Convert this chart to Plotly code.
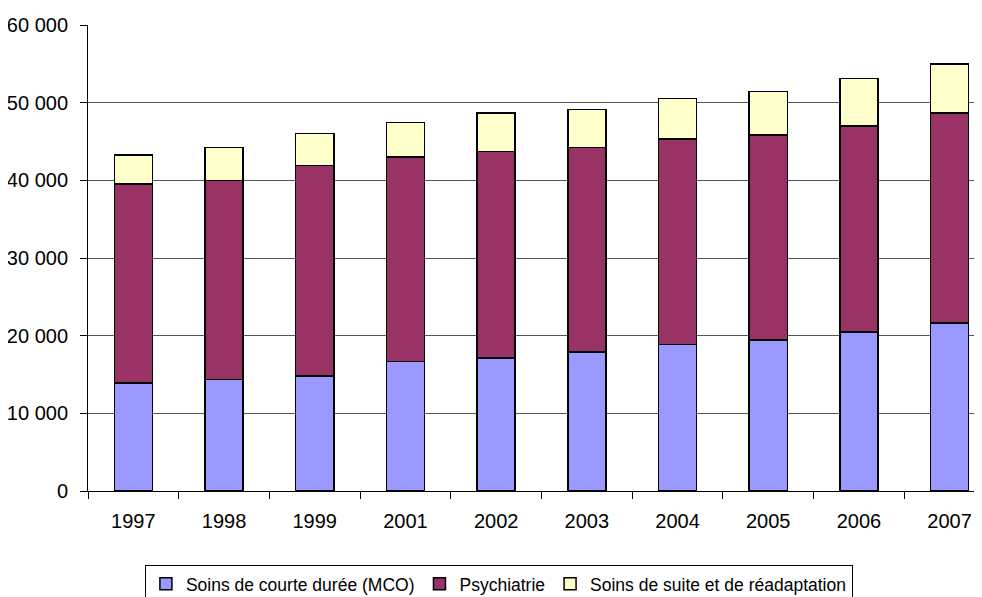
import plotly.graph_objects as go

years = ["1997", "1998", "1999", "2001", "2002", "2003", "2004", "2005", "2006", "2007"]
mco = [13900, 14350, 14800, 16700, 17150, 17900, 18850, 19450, 20450, 21650]
psy_top = [39500, 40000, 41900, 43000, 43700, 44200, 45350, 45850, 47000, 48700]
total = [43250, 44250, 46050, 47450, 48700, 49100, 50550, 51450, 53100, 55000]
psy = [p - m for p, m in zip(psy_top, mco)]
ssr = [t - p for t, p in zip(total, psy_top)]

names = ["Soins de courte durée (MCO)", "Psychiatrie", "Soins de suite et de réadaptation"]
colors = ["#9999FF", "#993366", "#FFFFCC"]
series = [mco, psy, ssr]

fig = go.Figure()
for n, c, s in zip(names, colors, series):
    fig.add_trace(go.Bar(x=years, y=s, name=n, marker=dict(color=c, line=dict(color="black", width=1.5)),
                         width=0.42))

fig.update_layout(
    barmode="stack",
    width=974, height=589,
    margin=dict(l=80, r=0, t=17, b=106),
    plot_bgcolor="white", paper_bgcolor="white",
    font=dict(family="Liberation Sans, Arial", size=20, color="black"),
    showlegend=True,
    legend=dict(orientation="h", xref="container", yref="container", x=0.504, xanchor="center",
                y=0.0545, yanchor="top", bordercolor="black", borderwidth=1,
                font=dict(size=17.5), itemwidth=30, traceorder="normal"),
    xaxis=dict(type="category", range=[-0.5, 9.357], showline=True, linecolor="black", linewidth=1,
               ticks="outside", ticklen=7, tickcolor="black", tickson="boundaries", showgrid=False,
               ticklabelstandoff=12),
    yaxis=dict(range=[0, 60000], tickvals=[0, 10000, 20000, 30000, 40000, 50000, 60000],
               ticktext=["0", "10 000", "20 000", "30 000", "40 000", "50 000", "60 000"],
               showline=True, linecolor="black", linewidth=1, ticks="outside", ticklen=7,
               tickcolor="black", showgrid=True, gridcolor="#555555", gridwidth=1, zeroline=False,
               ticklabelstandoff=8),
)
fig.write_html("out.html")
